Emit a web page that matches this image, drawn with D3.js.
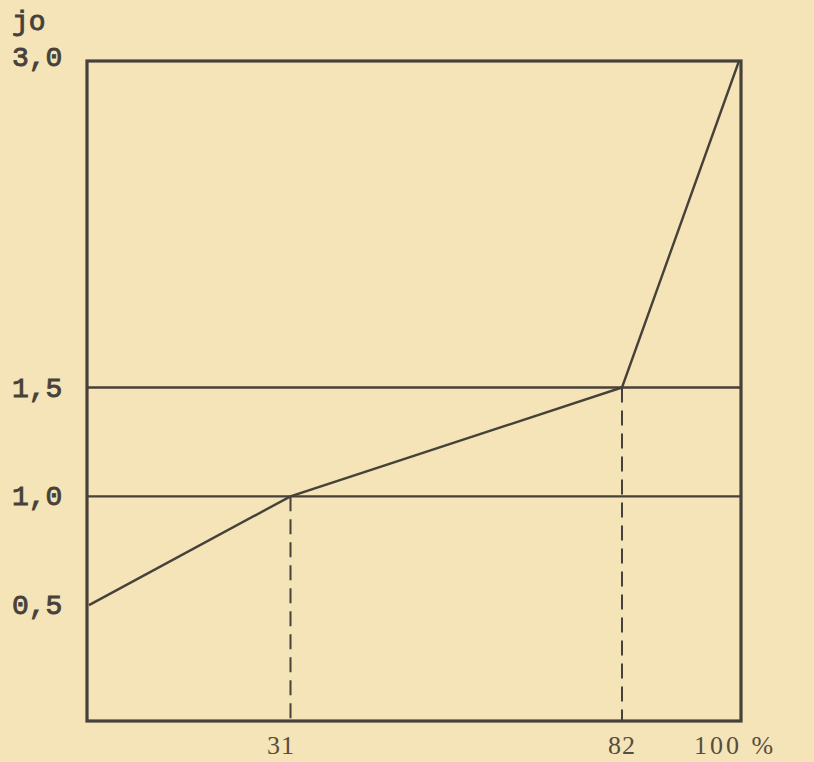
<!DOCTYPE html>
<html><head><meta charset="utf-8">
<script src="https://cdn.jsdelivr.net/npm/d3@7"></script>
<style>
html,body{margin:0;padding:0;background:#f5e4b7;}
svg{display:block;}
</style></head>
<body>
<svg id="chart" width="814" height="762"></svg>
<script>
// Data
const xValues = [0, 31, 82, 100];
const yValues = [0.5, 1.0, 1.5, 3.0];
const xTickValues = [31, 82, 100];
const xTickLabels = ["31", "82", "100 %"];
const yTickValues = [0.5, 1.0, 1.5, 3.0];
const yTickLabels = ["0,5", "1,0", "1,5", "3,0"];
const hLines = [1.0, 1.5];
const dashedX = [31, 82];
const yTitle = "jo";

(function () {
const svg = d3.select("#chart");
const W = 814, H = 762;
const fLeft = 87, fRight = 741, fTop = 61, fBottom = 721;
const ink = "#46413a";

svg.append("rect").attr("width", W).attr("height", H).attr("fill", "#f5e4b7");

const x = d3.scaleLinear().domain([0, 100]).range([89, 739]);
const y = d3.scaleLinear().domain([0, 3]).range([714, 61]);

const pts = xValues.map((v, i) => [v, yValues[i]]);

// horizontal reference lines
svg.selectAll("line.h").data(hLines).enter().append("line")
  .attr("x1", fLeft).attr("x2", fRight)
  .attr("y1", d => y(d)).attr("y2", d => y(d))
  .attr("stroke", ink).attr("stroke-width", 2.4);

// dashed drop lines
svg.selectAll("line.d").data(dashedX).enter().append("line")
  .attr("x1", d => x(d)).attr("x2", d => x(d))
  .attr("y1", d => y(yValues[xValues.indexOf(d)])).attr("y2", fBottom)
  .attr("stroke", ink).attr("stroke-width", 2)
  .attr("stroke-dasharray", "15,8");

// frame
svg.append("rect").attr("x", fLeft).attr("y", fTop)
  .attr("width", fRight - fLeft).attr("height", fBottom - fTop)
  .attr("fill", "none").attr("stroke", ink).attr("stroke-width", 3.2);

// curve
svg.append("path").datum(pts)
  .attr("d", d3.line().x(d => x(d[0])).y(d => y(d[1])))
  .attr("fill", "none").attr("stroke", ink).attr("stroke-width", 2.4)
  .attr("stroke-linejoin", "miter");

// y labels
const yFont = "'Liberation Mono', 'DejaVu Sans Mono', monospace";
svg.selectAll("text.yl").data(yTickValues).enter().append("text")
  .attr("x", 12).attr("y", d => d === 3 ? y(d) + 5 : y(d) + 9)
  .attr("font-family", yFont).attr("font-size", 28)
  .attr("fill", ink).attr("stroke", ink).attr("stroke-width", 0.9)
  .text((d, i) => yTickLabels[i]);

svg.append("text").attr("x", 12).attr("y", 30)
  .attr("font-family", yFont).attr("font-size", 28)
  .attr("fill", ink).attr("stroke", ink).attr("stroke-width", 0.9)
  .text(yTitle);

// x labels
const xPos = [281, 622, 694];
const xAnch = ["middle", "middle", "start"];
svg.selectAll("text.xl").data(xTickValues).enter().append("text")
  .attr("x", (d, i) => x(d) + (xPos[i] - x(d)))
  .attr("y", 754)
  .attr("text-anchor", (d, i) => xAnch[i])
  .attr("font-family", "'Liberation Serif', 'DejaVu Serif', serif")
  .attr("font-size", 26)
  .attr("letter-spacing", (d, i) => i === 2 ? 3 : 1)
  .attr("xml:space", "preserve")
  .attr("fill", "#554e42")
  .text((d, i) => xTickLabels[i]);
})();
</script>
</body></html>
